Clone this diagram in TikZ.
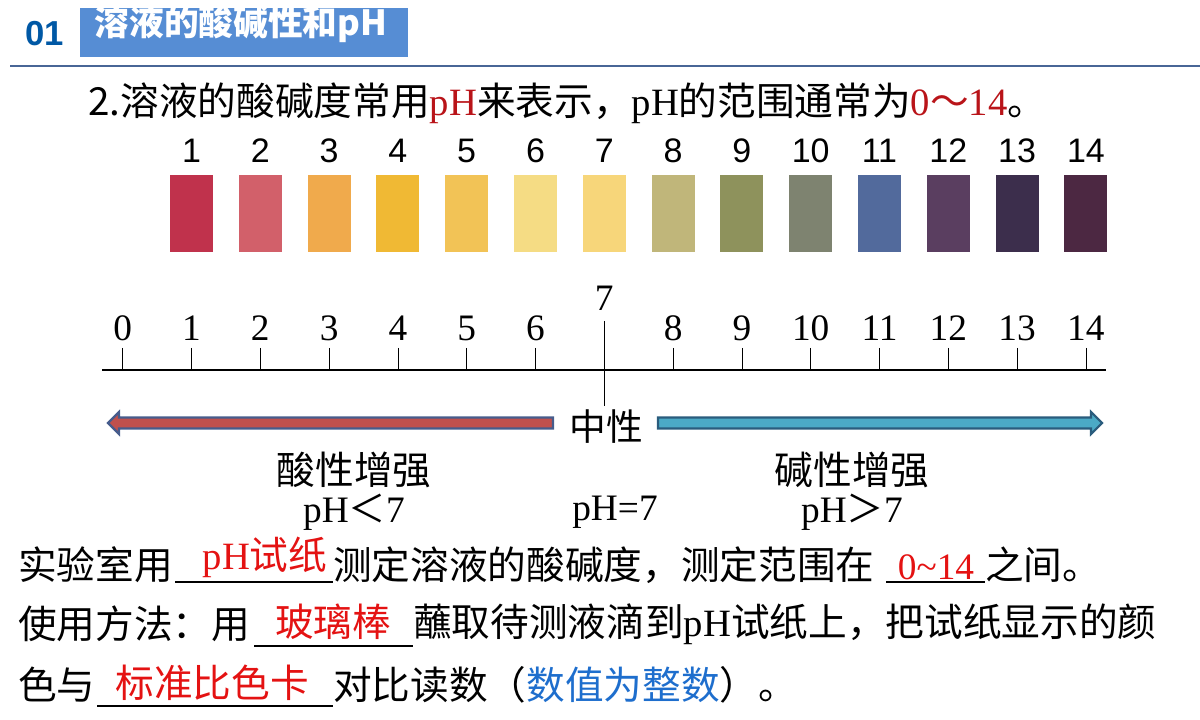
\documentclass[tikz,border=0pt]{standalone}
\usepackage{fontspec}
\setmainfont{Liberation Serif}
\newfontfamily\cjk{Noto Sans CJK SC}
\newfontfamily\arial{Liberation Sans}

\definecolor{hdblue}{RGB}{86,141,212}
\definecolor{numblue}{RGB}{0,88,165}
\definecolor{ruleblue}{RGB}{72,102,150}
\definecolor{phred}{RGB}{185,20,25}
\definecolor{ansred}{RGB}{228,18,18}
\definecolor{noteblue}{RGB}{30,110,205}
\definecolor{acidfill}{RGB}{192,80,77}
\definecolor{acidline}{RGB}{70,92,140}
\definecolor{basefill}{RGB}{75,170,198}
\definecolor{baseline}{RGB}{42,92,125}
\definecolor{sw1}{RGB}{192,50,76}
\definecolor{sw2}{RGB}{210,96,106}
\definecolor{sw3}{RGB}{240,170,76}
\definecolor{sw4}{RGB}{240,185,52}
\definecolor{sw5}{RGB}{242,195,86}
\definecolor{sw6}{RGB}{245,220,132}
\definecolor{sw7}{RGB}{247,214,122}
\definecolor{sw8}{RGB}{192,182,122}
\definecolor{sw9}{RGB}{142,146,92}
\definecolor{sw10}{RGB}{126,131,112}
\definecolor{sw11}{RGB}{82,106,156}
\definecolor{sw12}{RGB}{90,62,96}
\definecolor{sw13}{RGB}{60,46,76}
\definecolor{sw14}{RGB}{76,40,66}

\newcommand{\tnr}[1]{{\rmfamily #1}}

\tikzset{
  body/.style={font=\cjk\fontsize{29}{31}\selectfont, inner sep=0pt},
  swatch/.style={minimum width=32.25pt, minimum height=57.75pt, inner sep=0pt},
  swnum/.style={font=\arial\fontsize{25.5}{27}\selectfont, inner sep=0pt},
  ticknum/.style={font=\rmfamily\fontsize{28}{30}\selectfont, inner sep=0pt},
  answer/.style={body, text=ansred},
  acidarrow/.style={fill=acidfill, draw=acidline, line width=1.6pt},
  basearrow/.style={fill=basefill, draw=baseline, line width=1.6pt}
}

\begin{document}
\begin{tikzpicture}[x=0.75pt, y=-0.75pt]
	\useasboundingbox (0,0) rectangle (1200,720);
	
	% header
	\node[fill=hdblue, minimum width=246pt, minimum height=36.75pt, inner sep=0pt] (hd) at (244,32.5) {};
	\node[font=\arial\bfseries\fontsize{26}{28}\selectfont, text=numblue, inner sep=0pt] (no) at (45,34) {01};
	\node[font=\cjk\bfseries\fontsize{26}{28}\selectfont, text=white, inner sep=0pt] (title) at (241,24) {溶液的酸碱性和pH};
	\draw[ruleblue, line width=2pt] (10,66) -- (1200,66);
	
	\node[body, anchor=west] (intro) at (88,103) {2.溶液的酸碱度常用\textcolor{phred}{\tnr{pH}}来表示，\tnr{pH}的范围通常为\textcolor{phred}{\tnr{0}～\tnr{14}}。};
	
	% colour chart
	\foreach \i in {1,...,14} {
		\node[swatch, fill=sw\i] (s\i) at ({122.7+68.8*\i},213.5) {};
		\node[swnum] (n\i) at ({122.7+68.8*\i},151) {\i};
	}
	
	% number line
	\coordinate (l0) at (102,370);
	\coordinate (l1) at (1106,370);
	\draw[line width=1.5pt] (l0) -- (l1);
	\foreach \i in {0,...,14} {
		\ifnum\i=7
			\draw[line width=0.6pt] ({122.7+68.8*\i},321) -- ({122.7+68.8*\i},406);
			\node[ticknum] (t\i) at ({122.7+68.8*\i},298) {\i};
		\else
			\draw[line width=0.6pt] ({122.7+68.8*\i},348) -- ({122.7+68.8*\i},370);
			\node[ticknum] (t\i) at ({122.7+68.8*\i},328) {\i};
		\fi
	}
	
	\node[font=\cjk\fontsize{27.5}{29}\selectfont, inner sep=0pt] (mid) at (606,427) {中性};
	\coordinate (ltip) at (108,423);
	\coordinate (rtip) at (1102,423);
	\filldraw[acidarrow] (ltip) -- ++(11,-11) -- ++(0,5.5) -- ++(434,0) -- ++(0,11) -- ++(-434,0) -- ++(0,5.5) -- cycle;
	\filldraw[basearrow] (rtip) -- ++(-11,-11) -- ++(0,5.5) -- ++(-433,0) -- ++(0,11) -- ++(433,0) -- ++(0,5.5) -- cycle;
	
	\node[body] (acid) at (354,470) {酸性增强};
	\node[body] (base) at (852,470) {碱性增强};
	\node[ticknum] (pa) at (354,512) {pH{\cjk ＜}7};
	\node[ticknum] (pn) at (615,512) {pH=7};
	\node[ticknum] (pb) at (852,512) {pH{\cjk ＞}7};
	
	% fill-in lines
	\node[body, anchor=west] (r1a) at (18,565) {实验室用};
	\draw[line width=1pt] (175,582) -- (333,582);
	\node[answer] (a1) at (265,557) {\tnr{pH}试纸};
	\node[body, anchor=west] (r1b) at (333,565) {测定溶液的酸碱度，测定范围在};
	\draw[line width=1pt] (886,582) -- (985,582);
	\node[ticknum, text=ansred] (a2) at (936,567) {0\char`\~14};
	\node[body, anchor=west] (r1c) at (985,565) {之间。};
	
	\node[body, anchor=west] (r2a) at (18,624) {使用方法：用};
	\draw[line width=1pt] (254,646) -- (413,646);
	\node[answer] (a3) at (333,622) {玻璃棒};
	\node[body, anchor=west] (r2b) at (413,624) {蘸取待测液滴到\tnr{pH}试纸上，把试纸显示的颜};
	
	\node[body, anchor=west] (r3a) at (18,685) {色与};
	\draw[line width=1pt] (97,706) -- (333,706);
	\node[answer] (a4) at (212,683) {标准比色卡};
	\node[body, anchor=west] (r3b) at (333,685) {对比读数（\textcolor{noteblue}{数值为整数}）。};

\end{tikzpicture}
\end{document}
